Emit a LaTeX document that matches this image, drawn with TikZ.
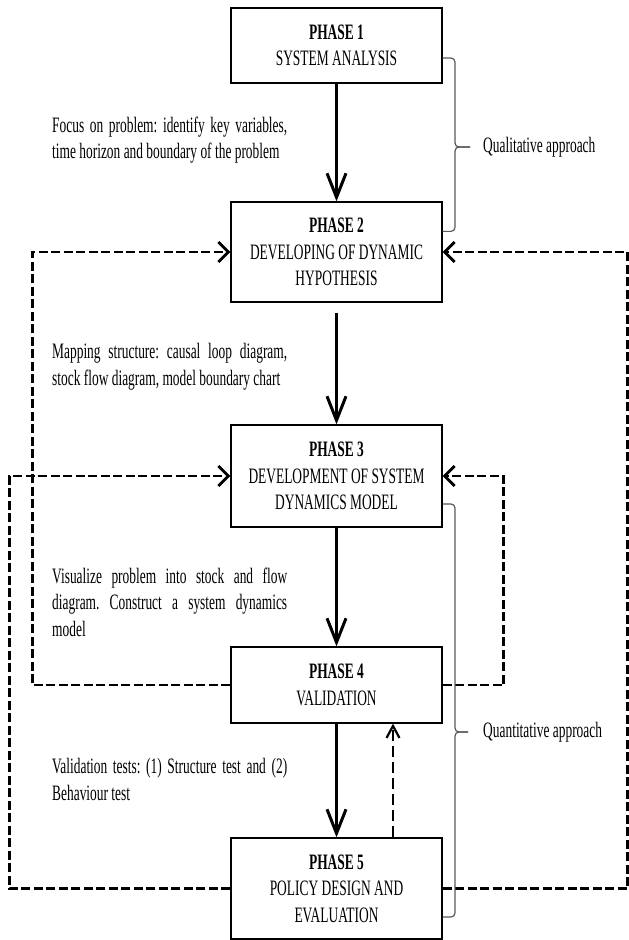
\documentclass[tikz,border=0pt]{standalone}
\usepackage{fontspec}
\setmainfont{Liberation Serif}[FakeStretch=0.61]
\usetikzlibrary{arrows.meta,calc}
\frenchspacing

\begin{document}
\begin{tikzpicture}[x=1pt,y=-1pt,
		phase/.style={draw,line width=1.3pt,minimum width=211pt,align=center,inner sep=0pt,font=\fontsize{22}{26.5}\selectfont},
		note/.style={anchor=west,text width=235pt,align=justify,inner sep=0pt,font=\fontsize{22}{26.5}\selectfont},
		side/.style={anchor=west,inner sep=0pt,font=\fontsize{22}{26.5}\selectfont},
		flow/.style={line width=3pt,-{Straight Barb[length=24pt,width=19pt]}},
		back/.style={line width=2.8pt,dash pattern=on 9pt off 3.5pt,-{Straight Barb[length=10pt,width=20pt]}},
		upline/.style={line width=2.2pt,dash pattern=on 11pt off 5pt,-{Straight Barb[length=12pt,width=13pt]}},
		brc/.style={black!65,line width=1.2pt,rounded corners=4pt}]
			\useasboundingbox (0,0) rectangle (629,940);
			\node[phase,minimum height=75pt] (p1) at (336.5,45.5) {\textbf{PHASE 1}\\SYSTEM ANALYSIS};
			\node[phase,minimum height=100pt] (p2) at (336.5,252) {\textbf{PHASE 2}\\DEVELOPING OF DYNAMIC\\HYPOTHESIS};
			\node[phase,minimum height=102pt] (p3) at (336.5,476) {\textbf{PHASE 3}\\DEVELOPMENT OF SYSTEM\\DYNAMICS MODEL};
			\node[phase,minimum height=76pt] (p4) at (336.5,685) {\textbf{PHASE 4}\\VALIDATION};
			\node[phase,minimum height=101pt] (p5) at (336.5,888.5) {\textbf{PHASE 5}\\POLICY DESIGN AND\\EVALUATION};
			\node[note] (t1) at (52,140) {Focus on problem: identify key variables,\linebreak time horizon and boundary of the problem};
			\node[note] (t2) at (52,366.5) {Mapping structure: causal loop diagram,\linebreak stock flow diagram, model boundary chart};
			\node[note] (t3) at (52,602) {Visualize problem into stock and flow\linebreak diagram. Construct a system dynamics\linebreak model};
			\node[note] (t4) at (52,779.5) {Validation tests: (1) Structure test and (2)\linebreak Behaviour test};
			\node[side] (q1) at (483,147) {Qualitative approach};
			\node[side] (q2) at (483,732) {Quantitative approach};
			\draw[flow] (p1) -- (p2);
			\draw[flow,shorten <=10pt] (p2) -- (p3);
			\draw[flow] (p3) -- (p4);
			\draw[flow] (p4) -- (p5);
			\draw[upline] ([xshift=56.5pt]p5.north) -- ([xshift=56.5pt]p4.south);
			\draw[back] (p4.west) -- ++(-198,0) |- (p2.west);
			\draw[back] (p5.west) -- ++(-221,0) |- (p3.west);
			\draw[back] (p4.east) -- ++(61,0) |- (p3.east);
			\draw[back] (p5.east) -- ++(185,0) |- (p2.east);
			\draw[brc] ($(p1.east)+(0,12.5)$) -| (455,147) -- (470,147);
			\draw[brc] (470,147) -- (455,147) |- ($(p2.north east)+(0,30)$);
			\draw[brc] ($(p3.east)+(0,28)$) -| (455,732) -- (468,732);
			\draw[brc] (468,732) -- (455,732) |- ($(p5.east)+(0,28.5)$);
\end{tikzpicture}
\end{document}
